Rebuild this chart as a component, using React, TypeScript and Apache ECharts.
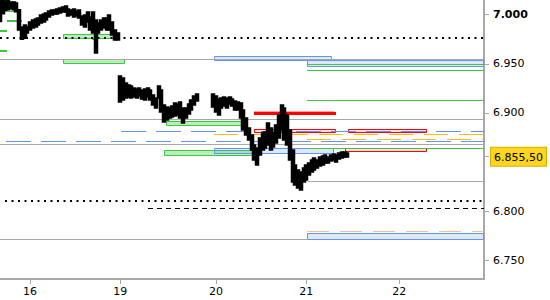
import React, { useEffect, useRef } from 'react';
import * as echarts from 'echarts';

// ---- x axis: intraday slots, day labels at slot indices ----
const SLOT_COUNT = 178;
const dayLabels = ['16', '19', '20', '21', '22'];
const dayIndex = [11, 44, 79, 112, 146];

// ---- price bars (high / low per slot, null = no trading) ----
const highs: (number | null)[] = [
  7016, 7015, 7014, 7015, 7013, 7013, 7012, 7005, 6987.5, 6989.5,
  6987.5, 6992.5, 6994.6, 6995.7, 6996.7, 6999.7, 7000.7, 7001.8, 7003.8, 7004.8,
  7004.8, 7005.8, 7006.9, 7007.9, 7008.9, 7005.8, 7004.8, 7005.8, 7003.8, 7004.8,
  6998.7, 6999.7, 7002.8, 6997.7, 7002.8, 6994.6, 6991.6, 6994.6, 6996.7, 6996.7,
  6999.7, 6992.6, 6984.5, 6981.4,
  6937.6, 6935.6, 6930.5, 6928.5, 6927.5, 6925.4, 6924.4, 6925.4, 6923.4, 6924.4,
  6925.4, 6923.4, 6918.3, 6915.2, 6927.5, 6923.4, 6908.1, 6906.1, 6905.1, 6907.1,
  6910.1, 6909.1, 6911.2, 6905.1, 6905.1, 6909.1, 6913.2, 6917.3, 6919.3,
  null, null, null, null, null,
  6919.3, 6917.3, 6914.2, 6915.2, 6916.2, 6915.2, 6916.2, 6914.2, 6912.2, 6911.2,
  6910.1, 6903.0, 6894.9, 6884.7, 6877.6, 6867.4, 6864.3, 6874.5, 6879.6, 6880.6,
  6889.8, 6884.7, 6879.6, 6887.7, 6897.9, 6908.1, 6905.1, 6897.9, 6882.7, 6862.3,
  6847.0, 6841.9, 6839.9, 6844.0, 6847.0, 6849.1, 6852.1, 6854.2, 6852.1, 6855.2,
  6856.2, 6857.2, 6855.2, 6857.2, 6858.2, 6857.2, 6859.2, 6860.3, 6860.3, 6859.2,
];
const lows: (number | null)[] = [
  6993, 7001, 7004, 7005, 7006, 7005, 7003, 6984.5, 6975, 6976,
  6981.5, 6984.5, 6986.5, 6987.5, 6989.6, 6991.6, 6992.6, 6994.6, 6997.7, 6999.7,
  7000.7, 7000.7, 7001.8, 7002.8, 7002.8, 6998.7, 6999.7, 6997.7, 6998.7, 6996.7,
  6989.6, 6987.5, 6992.6, 6984.5, 6981.4, 6961.0, 6981.4, 6984.5, 6986.5, 6984.5,
  6984.5, 6979.4, 6974.3, 6974.3,
  6911.2, 6913.2, 6915.2, 6916.2, 6915.2, 6916.2, 6915.2, 6917.3, 6914.2, 6913.2,
  6916.2, 6913.2, 6908.1, 6905.1, 6915.2, 6901.0, 6890.8, 6892.8, 6894.9, 6895.9,
  6896.9, 6897.9, 6894.9, 6889.8, 6894.9, 6899.0, 6903.0, 6908.1, 6912.2,
  null, null, null, null, null,
  6906.1, 6901.0, 6897.9, 6905.1, 6907.1, 6905.1, 6909.1, 6907.1, 6903.0, 6903.0,
  6894.9, 6882.7, 6877.6, 6872.5, 6862.3, 6852.1, 6847.0, 6857.2, 6862.3, 6864.3,
  6867.4, 6862.3, 6865.4, 6869.4, 6874.5, 6882.7, 6872.5, 6867.4, 6852.1, 6829.7,
  6826.7, 6823.6, 6821.6, 6829.7, 6831.8, 6836.9, 6839.9, 6841.9, 6844.0, 6846.0,
  6847.0, 6849.1, 6849.1, 6851.1, 6852.1, 6850.1, 6853.1, 6854.2, 6855.2, 6855.2,
];
const lastPrice = 6855.5;
const yTicks = [6750, 6800, lastPrice, 6900, 6950, 7000];

// ---- horizontal levels: [price, fromSlot, toSlot] ----
const grayLines = [
  [6954.6, 0, 177], [6893.6, 0, 177], [6868.1, 0, 177],
  [6771.7, 0, 112.3], [6830.8, 112.6, 177],
];
const greenLines = [
  [6949.5, 112.3, 177], [6943.7, 112.3, 177], [6912.9, 112.3, 177], [6864.0, 112.3, 177],
];
const greenStubs = [[6993.9, 2.5, 8], [6983.7, 0, 2.5], [6963.1, 0, 2.5]];
const blueDashed = [[6881.6, 44.2, 177], [6871.5, 2.2, 177]];
const orangeDashed = [[6878.6, 78.4, 177], [6874.0, 112.3, 177]];
const paleOrangeDashed = [[6779.6, 112.3, 177]];
const blackDotted = [[6976.6, 0, 177], [6810.4, 1.8, 177]];
const blackDashed = [[6803.0, 54.1, 177]];
const redLines = [[6899.7, 93, 122.7]];
const pinkLines = [[6901.6, 93, 122.2]];

// ---- zones: [low, high, fromSlot, toSlot] ----
const greenBoxes = [
  [6976.0, 6980.4, 23.2, 42.1], [6950.6, 6954.6, 23.2, 45.6],
  [6888.1, 6891.8, 60.6, 90.5], [6856.9, 6862.3, 59.9, 95.1],
  [7004.1, 7006.9, 2.5, 6.2], [6975.3, 6976.8, 33.8, 36.0],
];
const blueBoxes = [
  [6953.9, 6958.0, 78.4, 121.4], [6947.8, 6953.9, 112.3, 177],
  [6858.9, 6864.0, 78.4, 122.0], [6771.7, 6777.5, 112.3, 177],
];
const redBoxes = [
  [6880.9, 6883.4, 93, 122.7], [6880.9, 6883.4, 127.1, 156.1], [6861.3, 6864.0, 126.0, 156.1],
];

const FONT = '"DejaVu Sans", Verdana, sans-serif';
const AXIS_GRAY = '#a8a8a8';

function fmtPrice(v: number): string {
  if (Math.abs(v - lastPrice) < 0.001) {
    const [int, dec] = v.toFixed(2).split('.');
    return `{p|${int.slice(0, int.length - 3)}.${int.slice(-3)},${dec}}`;
  }
  const s = String(Math.round(v));
  const txt = `${s.slice(0, s.length - 3)}.${s.slice(-3)}`;
  return v === 7000 ? `{b|${txt}}` : `{n|${txt}}`;
}

function lineSeries(rows: number[][], stroke: string, width: number, dash?: number[], z = 2) {
  return {
    type: 'custom',
    xAxisIndex: 1,
    yAxisIndex: 0,
    z,
    silent: true,
    clip: true,
    data: rows.map((r) => [r[1], r[2], r[0]]),
    encode: { x: [0, 1], y: 2 },
    renderItem: (_p: any, api: any) => {
      const a = api.coord([api.value(0), api.value(2)]);
      const b = api.coord([api.value(1), api.value(2)]);
      const y = Math.round(a[1]) + (width % 2 === 1 ? 0.5 : 0);
      return {
        type: 'line',
        shape: { x1: Math.round(a[0]), y1: y, x2: Math.round(b[0]), y2: y },
        style: { stroke, lineWidth: width, lineDash: dash || null, fill: null },
      };
    },
  };
}

function boxSeries(rows: number[][], fill: string, stroke: string) {
  return {
    type: 'custom',
    xAxisIndex: 1,
    yAxisIndex: 0,
    z: 1,
    silent: true,
    clip: true,
    data: rows,
    encode: { x: [2, 3], y: [0, 1] },
    renderItem: (_p: any, api: any) => {
      const a = api.coord([api.value(2), api.value(1)]);
      const b = api.coord([api.value(3), api.value(0)]);
      const x0 = Math.round(a[0]);
      const y0 = Math.round(a[1]);
      return {
        type: 'rect',
        shape: {
          x: x0 + 0.5,
          y: y0 + 0.5,
          width: Math.max(1, Math.round(b[0]) - x0 - 1),
          height: Math.max(1, Math.round(b[1]) - y0),
        },
        style: { fill, stroke, lineWidth: 1 },
      };
    },
  };
}

export default function App() {
  const ref = useRef<HTMLDivElement>(null);
  useEffect(() => {
    if (!ref.current) return;
    const chart = echarts.init(ref.current, null, { renderer: 'svg' });
    const categories = Array.from({ length: SLOT_COUNT }, (_, i) => {
      const k = dayIndex.indexOf(i);
      return k >= 0 ? dayLabels[k] : '';
    });
    const candleData = highs
      .map((h, i) => (h == null || lows[i] == null ? null : [i, lows[i], h, lows[i], h]))
      .filter((d) => d !== null);
    const showDay = (i: number) => dayIndex.includes(i);

    chart.setOption({
      animation: false,
      backgroundColor: '#ffffff',
      grid: { left: 0, top: 0, right: 62, bottom: 21, containLabel: false },
      xAxis: [
        {
          type: 'category',
          data: categories,
          boundaryGap: false,
          axisLine: { show: true, onZero: false, lineStyle: { color: AXIS_GRAY, width: 2 } },
          axisTick: { show: true, interval: showDay, length: 5, lineStyle: { color: AXIS_GRAY, width: 1 } },
          axisLabel: {
            show: true,
            interval: showDay,
            color: '#000',
            fontSize: 11,
            fontFamily: FONT,
            margin: 7,
          },
          splitLine: { show: false },
        },
        {
          type: 'value',
          min: 0,
          max: SLOT_COUNT - 1,
          show: false,
          axisLine: { show: false, onZero: false },
          splitLine: { show: false },
        },
      ],
      yAxis: {
        type: 'value',
        position: 'right',
        min: 6731,
        max: 7015,
        splitLine: { show: false },
        axisLine: { show: true, onZero: false, lineStyle: { color: AXIS_GRAY, width: 2 } },
        axisTick: { show: true, length: 5, customValues: yTicks, lineStyle: { color: AXIS_GRAY, width: 1 } },
        axisLabel: {
          show: true,
          customValues: yTicks,
          margin: 7,
          color: '#000',
          fontSize: 11,
          fontFamily: FONT,
          formatter: fmtPrice,
          rich: {
            n: { fontSize: 11, fontFamily: FONT, color: '#000', padding: [0, 0, 0, 2] },
            b: { fontSize: 11, fontFamily: FONT, color: '#000', fontWeight: 'bold', padding: [0, 0, 0, 2] },
            p: {
              fontSize: 11,
              fontFamily: FONT,
              color: '#000',
              backgroundColor: '#fed61e',
              borderColor: '#d6b000',
              borderWidth: 1,
              padding: [4, 3, 3, 3],
            },
          },
        },
      },
      series: [
        boxSeries(greenBoxes, 'rgba(60,200,60,0.35)', '#3cc83c'),
        boxSeries(blueBoxes, 'rgba(100,149,237,0.22)', '#6495ed'),
        boxSeries(redBoxes, 'rgba(255,120,120,0.25)', '#ff0000'),
        lineSeries(grayLines, '#a8a8a8', 1),
        lineSeries(greenLines, '#3cc83c', 1),
        lineSeries(greenStubs, '#3cc83c', 2),
        lineSeries(blueDashed, '#6495ed', 1, [25, 10]),
        lineSeries(orangeDashed, '#ffb81c', 1, [24, 11]),
        lineSeries(paleOrangeDashed, '#f5c487', 1, [22, 11]),
        lineSeries(blackDashed, '#000000', 1, [5, 4]),
        lineSeries(pinkLines, '#ff9a9a', 1),
        lineSeries(redLines, '#ff0000', 3),
        {
          type: 'candlestick',
          xAxisIndex: 0,
          yAxisIndex: 0,
          z: 5,
          silent: true,
          barWidth: 3.5,
          encode: { x: 0, y: [1, 2, 3, 4] },
          data: candleData,
          itemStyle: {
            color: '#000',
            color0: '#000',
            borderColor: '#000',
            borderColor0: '#000',
            borderWidth: 1.5,
          },
        },
        lineSeries(blackDotted, '#000000', 2, [2, 4.5], 6),
      ],
    });
    return () => chart.dispose();
  }, []);

  return (
    <div
      ref={ref}
      style={{ position: 'fixed', left: 0, top: 0, width: 550, height: 300, background: '#fff' }}
    />
  );
}
